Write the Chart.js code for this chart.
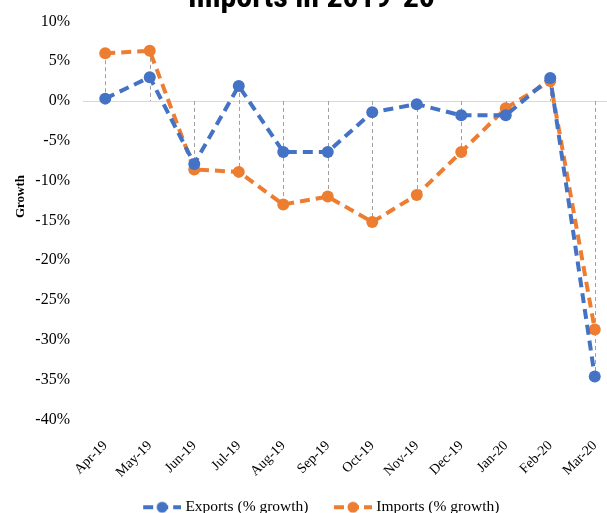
<!DOCTYPE html>
<html lang="en">
<head>
<meta charset="UTF-8">
<title>Exports and Imports in 2019-20</title>
<script src="https://cdn.jsdelivr.net/npm/chart.js"></script>
<style>
  html, body { margin: 0; padding: 0; overflow: hidden; background: #fff; }
  #wrap { position: absolute; left: 0; top: -20px; width: 623px; height: 545px; }
</style>
</head>
<body>
<div id="wrap"><canvas id="canvas1"></canvas></div>
<script>
// data
const months = ['Apr-19', 'May-19', 'Jun-19', 'Jul-19', 'Aug-19', 'Sep-19', 'Oct-19', 'Nov-19', 'Dec-19', 'Jan-20', 'Feb-20', 'Mar-20'];
const exportsGrowth = [0.3, 3.0, -7.9, 1.9, -6.4, -6.4, -1.4, -0.4, -1.8, -1.8, 2.9, -34.6];
const importsGrowth = [6.0, 6.3, -8.6, -8.9, -13.0, -12.0, -15.2, -11.8, -6.4, -0.9, 2.5, -28.7];
const yTicks = [10, 5, 0, -5, -10, -15, -20, -25, -30, -35, -40];

const blue = '#4472C4';
const orange = '#ED7D31';
const serif = "'Liberation Serif', 'Times New Roman', serif";

// legend icon: dashed line with a dot, pushed to the right of a wider box
// so there is more room between the two legend entries
const ICON_BOX = 54;
function legendIcon(color) {
  const c = document.createElement('canvas');
  c.width = ICON_BOX + 7; c.height = 14;
  const g = c.getContext('2d');
  const x0 = c.width - 38;
  g.strokeStyle = color;
  g.lineWidth = 4;
  g.setLineDash([10, 5]);
  g.beginPath(); g.moveTo(x0, 7); g.lineTo(c.width, 7); g.stroke();
  g.fillStyle = color;
  g.beginPath(); g.arc(x0 + 19, 7, 5.5, 0, Math.PI * 2); g.fill();
  return c;
}

// vertical dashed drop lines from the 0 axis to the points
const dropLines = {
  id: 'dropLines',
  beforeDatasetsDraw(chart) {
    const { ctx, scales: { x, y } } = chart;
    ctx.save();
    ctx.strokeStyle = '#a0a0a0';
    ctx.lineWidth = 1;
    ctx.setLineDash([4, 3]);
    months.forEach((m, i) => {
      const hi = Math.max(0, exportsGrowth[i], importsGrowth[i]);
      const lo = Math.min(0, exportsGrowth[i], importsGrowth[i]);
      const px = Math.round(x.getPixelForValue(i)) + 0.5;
      ctx.beginPath();
      ctx.moveTo(px, y.getPixelForValue(hi));
      ctx.lineTo(px, y.getPixelForValue(lo));
      ctx.stroke();
    });
    ctx.restore();
  }
};

// y axis title, sits a bit above the middle of the axis like in the original
const growthTitle = {
  id: 'growthTitle',
  afterDraw(chart) {
    const { ctx, scales: { y } } = chart;
    ctx.save();
    ctx.translate(21, y.getPixelForValue(-12));
    ctx.rotate(-Math.PI / 2);
    ctx.font = 'bold 13px ' + serif;
    ctx.fillStyle = '#000';
    ctx.textAlign = 'center';
    ctx.textBaseline = 'middle';
    ctx.fillText('Growth', 0, 0);
    ctx.restore();
  }
};

const config = {
  type: 'line',
  data: {
    labels: months,
    datasets: [
      {
        label: 'Exports (% growth)',
        data: exportsGrowth,
        borderColor: blue,
        backgroundColor: blue,
        borderWidth: 4,
        borderDash: [10, 6],
        pointRadius: 6,
        pointBorderWidth: 0,
        tension: 0
      },
      {
        label: 'Imports (% growth)',
        data: importsGrowth,
        borderColor: orange,
        backgroundColor: orange,
        borderWidth: 4,
        borderDash: [10, 6],
        pointRadius: 6,
        pointBorderWidth: 0,
        tension: 0
      }
    ]
  },
  options: {
    responsive: true,
    maintainAspectRatio: false,
    animation: false,
    layout: { padding: 0 },
    scales: {
      x: {
        offset: true,
        grid: { display: false },
        border: { display: false },
        ticks: {
          minRotation: 45,
          maxRotation: 45,
          color: '#000',
          padding: 10,
          font: { family: serif, size: 14 }
        },
        afterFit(s) { s.height = 74; }
      },
      y: {
        min: -40,
        max: 10,
        afterBuildTicks(s) { s.ticks = yTicks.map(v => ({ value: v })); },
        grid: {
          drawTicks: false,
          color: c => c.tick && c.tick.value === 0 ? '#d9d9d9' : 'rgba(0,0,0,0)'
        },
        border: { display: false },
        ticks: {
          color: '#000',
          padding: 13,
          font: { family: serif, size: 16 },
          callback: v => v + '%'
        },
        afterFit(s) { s.width = 83; }
      }
    },
    plugins: {
      title: {
        display: true,
        text: 'Imports in 2019-20',
        color: '#000',
        font: { family: "'Liberation Sans Narrow', 'Arial Narrow', 'Roboto Condensed', 'Liberation Sans', sans-serif", size: 32, weight: 'bold' },
        padding: { top: 0, bottom: 3 }
      },
      legend: {
        position: 'bottom',
        labels: {
          usePointStyle: true,
          pointStyleWidth: ICON_BOX,
          color: '#000',
          padding: 6,
          font: { family: serif, size: 15.5 },
          generateLabels(chart) {
            const items = Chart.defaults.plugins.legend.labels.generateLabels(chart);
            items.forEach(it => { it.pointStyle = legendIcon(it.datasetIndex === 0 ? blue : orange); });
            return items;
          }
        }
      },
      tooltip: { enabled: false }
    }
  },
  plugins: [dropLines, growthTitle]
};

const ctx = document.getElementById('canvas1').getContext('2d');
const resultChart = new Chart(ctx, config);
</script>
</body>
</html>
